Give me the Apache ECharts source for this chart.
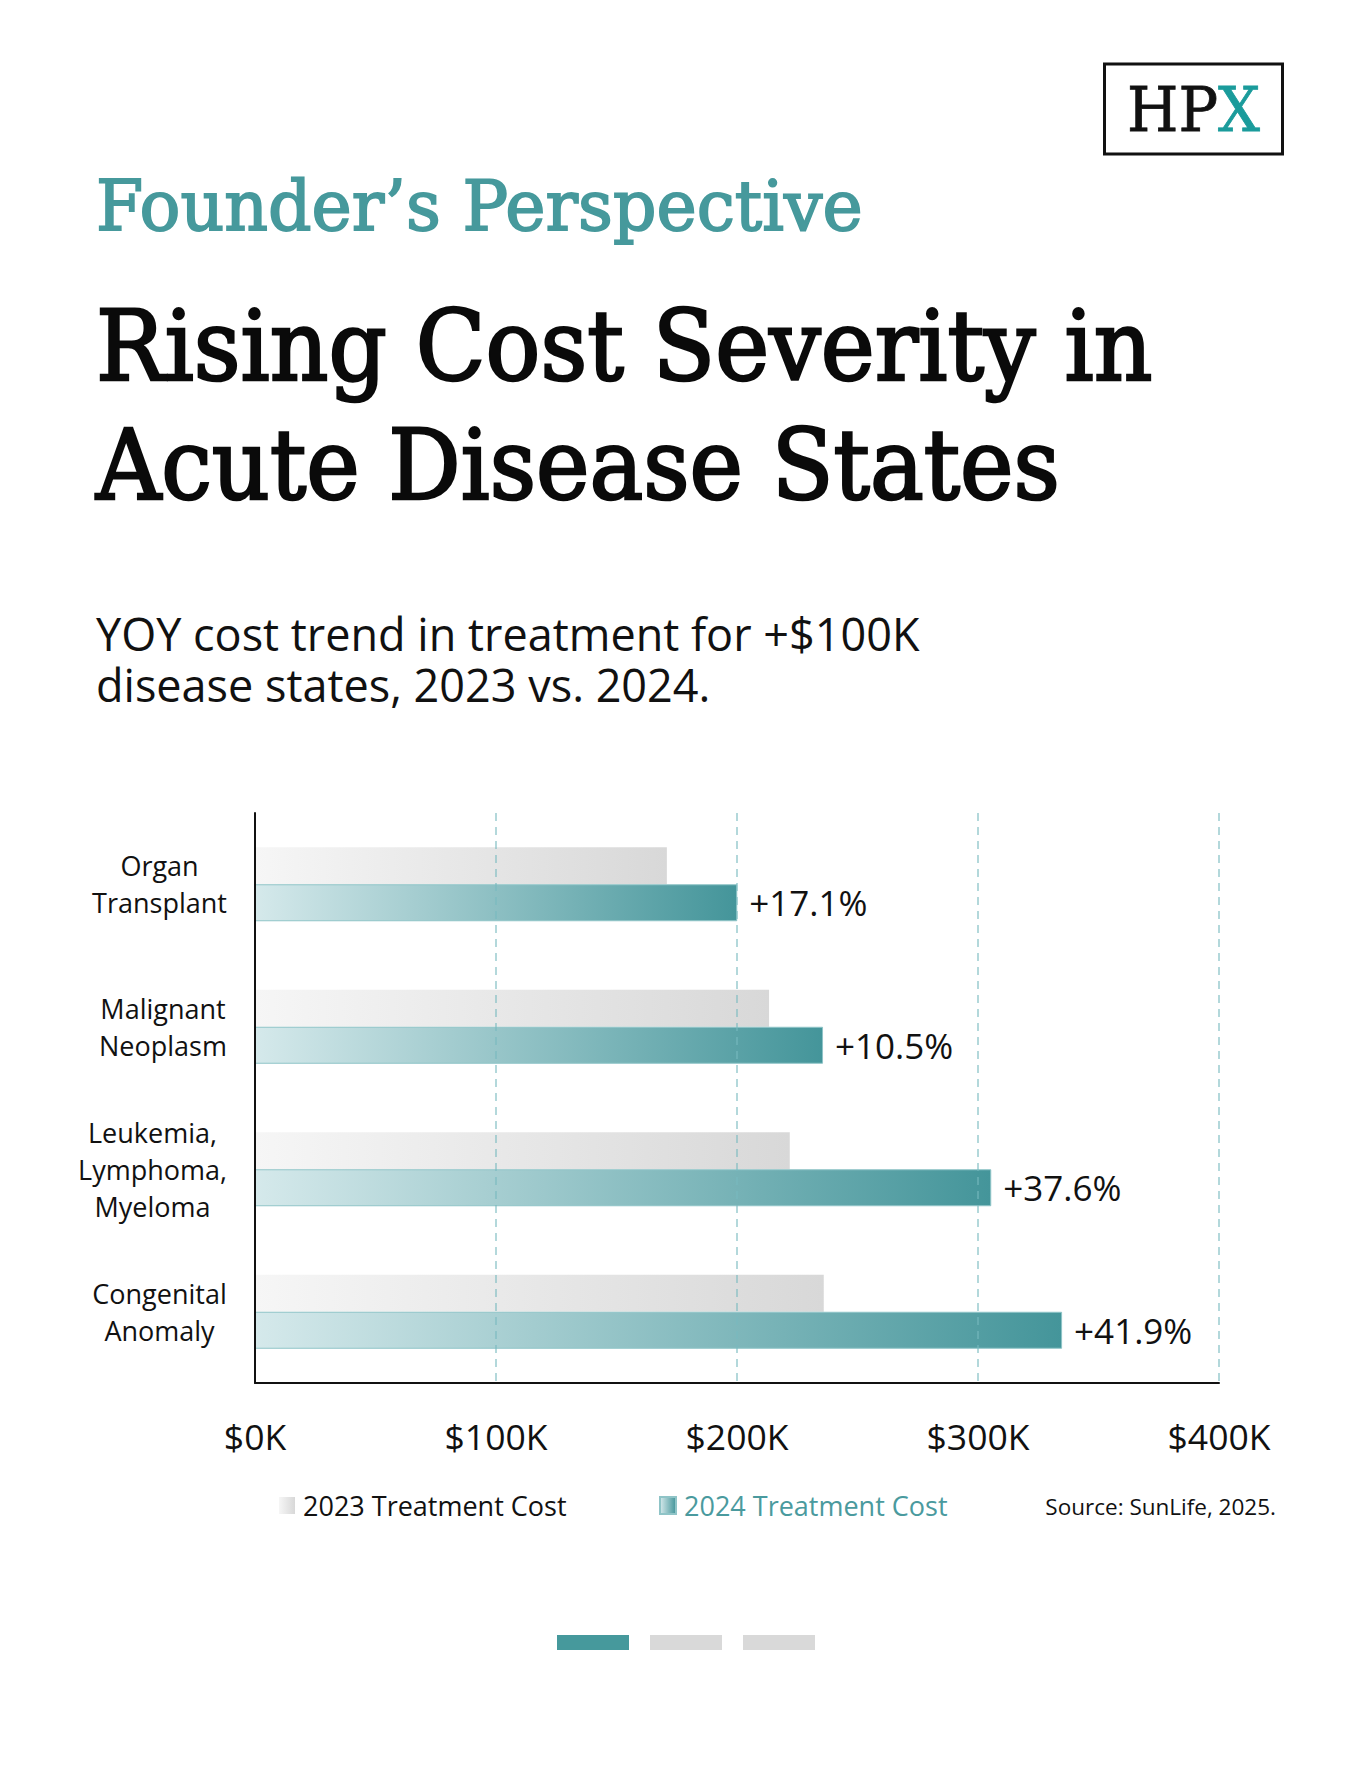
<!DOCTYPE html>
<html>
<head>
<meta charset="utf-8">
<title>Rising Cost Severity in Acute Disease States</title>
<script src="https://cdn.jsdelivr.net/npm/echarts@6/dist/echarts.min.js"></script>
<style>
html,body{margin:0;padding:0;background:#fff;}
.page{position:relative;width:1364px;height:1768px;}
#chartWrap{position:absolute;left:0;top:0;width:1364px;height:1768px;}
.subTitle{position:absolute;left:96px;top:608px;margin:0;z-index:2;
	font-family:"Open Sans","Noto Sans",sans-serif;font-size:45px;color:#111;white-space:nowrap;}
.subTitle div{height:51px;line-height:51px;}
</style>
</head>
<body>
<div class="page">
	<div id="chartWrap"></div>
	<div class="subTitle">
		<div>YOY cost trend in treatment for +$100K</div>
		<div>disease states, 2023 vs. 2024.</div>
	</div>
</div>
<script>
// disease states (top to bottom)
var categories = ['Organ\nTransplant', 'Malignant\nNeoplasm', 'Leukemia,\nLymphoma,\nMyeloma', 'Congenital\nAnomaly'];
// treatment cost, $K
var cost2023 = [170.9, 213.3, 221.9, 236.0];
var cost2024 = [200.1, 235.7, 305.5, 334.9];
// YOY change shown next to the 2024 bar
var changePct = ['+17.1%', '+10.5%', '+37.6%', '+41.9%'];
var seriesNames = ['2023 Treatment Cost', '2024 Treatment Cost'];
// x axis ticks, $K
var xMin = 0, xMax = 400, xStep = 100;

var TEAL = '#46999c';
var SANS = '"Open Sans", "Noto Sans", sans-serif';

/**
 * [fitScale 横向缩放系数，使文字宽度等于目标宽度]
 */
var measureCtx = document.createElement('canvas').getContext('2d');
function textWidth(text, font){
	measureCtx.font = font;
	return measureCtx.measureText(text).width;
}
function fitScale(text, font, target){
	return target / textWidth(text, font);
}

// category labels: lines centred inside a block that is right aligned to the axis
var catFont = '27px "Open Sans"';
var catRich = {};
for(var i = 0; i < categories.length; i++){
	var lines = categories[i].split('\n');
	var w = 0;
	for(var j = 0; j < lines.length; j++){
		w = Math.max(w, textWidth(lines[j], catFont));
	}
	catRich['c' + i] = {
		width: Math.ceil(w),
		align: 'center',
		fontSize: 27,
		fontFamily: SANS,
		color: '#111',
		lineHeight: 37
	};
}

var titleFont = '97px "DejaVu Serif"';
var founderFont = '70px "DejaVu Serif"';
var logoFont = '62px "DejaVu Serif"';

var dom = document.getElementById('chartWrap');
var myChart = echarts.init(dom, null, {renderer: 'svg'});

var legendBase = {
	top: 1492,
	padding: 0,
	icon: 'rect',
	itemWidth: 16,
	itemHeight: 17,
	selectedMode: false
};

var option = {
	backgroundColor: '#fff',
	animation: false,
	grid: {
		left: 255,
		right: 145,
		top: 813,
		bottom: 385,
		containLabel: false
	},
	legend: [
		echarts.util.merge({
			data: [seriesNames[0]],
			left: 279,
			textStyle: {fontSize: 27, fontFamily: SANS, color: '#111', padding: [0, 0, 0, 3]}
		}, legendBase),
		echarts.util.merge({
			data: [seriesNames[1]],
			left: 659,
			textStyle: {fontSize: 27, fontFamily: SANS, color: '#4a9a9e', padding: [0, 0, 0, 3]}
		}, legendBase)
	],
	xAxis: {
		type: 'value',
		min: xMin,
		max: xMax,
		interval: xStep,
		z: 5,
		axisLine: {show: true, lineStyle: {color: '#111', width: 2}},
		axisTick: {show: false},
		splitLine: {
			show: true,
			lineStyle: {color: 'rgba(120,185,190,0.75)', width: 1.5, type: [8, 6]}
		},
		axisLabel: {
			margin: 35,
			fontSize: 35.5,
			fontFamily: SANS,
			color: '#111',
			formatter: function(v){ return '$' + v + 'K'; }
		}
	},
	yAxis: {
		type: 'category',
		inverse: true,
		data: categories,
		z: 6,
		axisLine: {show: true, lineStyle: {color: '#111', width: 2}},
		axisTick: {show: false},
		splitLine: {show: false},
		axisLabel: {
			margin: 28,
			align: 'right',
			rich: catRich,
			formatter: function(value, idx){
				var parts = value.split('\n');
				for(var k = 0; k < parts.length; k++){
					parts[k] = '{c' + idx + '|' + parts[k] + '}';
				}
				return parts.join('\n');
			}
		}
	},
	series: [{
		name: seriesNames[0],
		type: 'bar',
		data: cost2023,
		barWidth: 37,
		barGap: '0%',
		itemStyle: {
			color: new echarts.graphic.LinearGradient(0, 0, 1, 0, [
				{offset: 0, color: '#f6f6f6'},
				{offset: 1, color: '#d8d8d8'}
			])
		}
	},{
		name: seriesNames[1],
		type: 'bar',
		data: cost2024,
		barWidth: 37,
		barGap: '0%',
		itemStyle: {
			color: new echarts.graphic.LinearGradient(0, 0, 1, 0, [
				{offset: 0, color: '#d5e9eb'},
				{offset: 1, color: '#44959a'}
			]),
			borderColor: '#8fc4c7',
			borderWidth: 1
		},
		label: {
			show: true,
			position: 'right',
			distance: 12,
			fontSize: 35,
			fontFamily: SANS,
			color: '#111',
			formatter: function(p){ return changePct[p.dataIndex]; }
		}
	}],
	graphic: [
		// logo
		{type: 'rect', shape: {x: 1104.5, y: 64, width: 178, height: 90}, style: {fill: '#fff', stroke: '#111', lineWidth: 3}},
		{type: 'text', x: 1193.5, y: 109, scaleX: fitScale('HPX', logoFont, 133), style: {
			text: '{h|HP}{x|X}',
			align: 'center',
			verticalAlign: 'middle',
			rich: {
				h: {font: logoFont, fill: '#111', stroke: '#111', lineWidth: 0.8},
				x: {font: logoFont, fill: '#1a9b9b', stroke: '#1a9b9b', lineWidth: 0.8}
			}
		}},
		// header text
		{type: 'text', x: 96, y: 206, scaleX: fitScale('Founder\u2019s Perspective', founderFont, 767), style: {
			text: 'Founder\u2019s Perspective', font: founderFont, fill: TEAL,
			stroke: TEAL, lineWidth: 1.8, verticalAlign: 'middle'
		}},
		{type: 'text', x: 96, y: 347, scaleX: fitScale('Rising Cost Severity in', titleFont, 1057), style: {
			text: 'Rising Cost Severity in', font: titleFont, fill: '#0a0a0a',
			stroke: '#0a0a0a', lineWidth: 2.6, verticalAlign: 'middle'
		}},
		{type: 'text', x: 96, y: 465, scaleX: fitScale('Acute Disease States', titleFont, 964), style: {
			text: 'Acute Disease States', font: titleFont, fill: '#0a0a0a',
			stroke: '#0a0a0a', lineWidth: 2.6, verticalAlign: 'middle'
		}},
		// source note
		{type: 'text', x: 1276, y: 1506, style: {
			text: 'Source: SunLife, 2025.', font: '22.5px "Open Sans"', fill: '#111', align: 'right', verticalAlign: 'middle'
		}},
		// page indicator
		{type: 'rect', shape: {x: 557, y: 1635, width: 72, height: 15}, style: {fill: TEAL}},
		{type: 'rect', shape: {x: 650, y: 1635, width: 72, height: 15}, style: {fill: '#d9d9d9'}},
		{type: 'rect', shape: {x: 743, y: 1635, width: 72, height: 15}, style: {fill: '#d9d9d9'}}
	]
};

if (option && typeof option === "object") {
	myChart.setOption(option, true);
}
</script>
</body>
</html>
